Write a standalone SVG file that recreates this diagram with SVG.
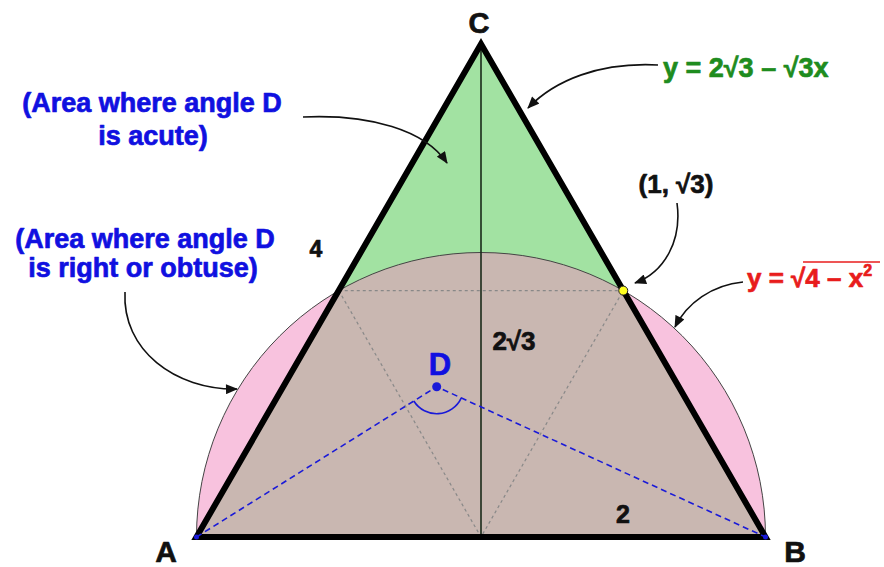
<svg xmlns="http://www.w3.org/2000/svg" width="884" height="567" viewBox="0 0 884 567">
<style>
text{font-family:"Liberation Sans",Arial,sans-serif;font-weight:bold;stroke-width:0.7;stroke-linejoin:round}
.blue{fill:#1010e0;stroke:#1010e0;font-size:27px;text-anchor:middle}
.lbl{fill:#111;stroke:#111;text-anchor:middle}
.dot{stroke:#888;stroke-width:1.2;stroke-dasharray:3 3;fill:none}
.bd{stroke:#1a1ad8;stroke-width:1.6;stroke-dasharray:6 4;fill:none}
.arr{stroke:#111;stroke-width:1.6;fill:none;marker-end:url(#ah)}
</style>
<defs>
<marker id="ah" viewBox="0 0 12 10" refX="11" refY="5" markerWidth="13" markerHeight="10" markerUnits="userSpaceOnUse" orient="auto">
<path d="M0,0 L12,5 L0,10 Z" fill="#111"/>
</marker>
</defs>
<rect width="884" height="567" fill="#fff"/>
<g id="regions">
<path id="pink" d="M196.5,537 A284.5,284.5 0 0 1 765.5,537 Z" fill="#f8c2de"/>
<path id="green" d="M196.5,537 L481,44 L765.5,537 Z" fill="#a2e2a2"/>
<path id="brown" d="M196.5,537 L338.75,290.6 A284.5,284.5 0 0 1 623.25,290.6 L765.5,537 Z" fill="#c9b7b1"/>
<path d="M196.5,537 A284.5,284.5 0 0 1 765.5,537" fill="none" stroke="#444" stroke-width="1"/>
</g>
<g id="construction">
<path class="dot" d="M338.75,290.6 L623.25,290.6 M338.75,290.6 L481,537 L623.25,290.6"/>
<line x1="481" y1="44" x2="481" y2="537" stroke="#1a2a1a" stroke-width="1.6"/>
</g>
<g id="triangle">
<path d="M196.5,537 L481,44 L765.5,537 Z" fill="none" stroke="#000" stroke-width="6" stroke-linejoin="miter"/>
</g>
<g id="pointD">
<path class="bd" d="M196.5,537 L436.7,386.7 L765.5,537"/>
<path d="M413.8,401 A27,27 0 0 0 461.3,397.9" fill="none" stroke="#1a1ad8" stroke-width="1.6"/>
<circle cx="436.7" cy="386.7" r="4.5" fill="#1a1ad8"/>
<circle cx="196.5" cy="537" r="2.5" fill="#1a1ad8"/>
<circle cx="765.5" cy="537" r="2.5" fill="#1a1ad8"/>
<text x="440" y="375" fill="#1010e0" stroke="#1010e0" font-size="31" text-anchor="middle">D</text>
</g>
<g id="point13">
<circle cx="623.25" cy="290.6" r="4.5" fill="#ffff20" stroke="#222" stroke-width="1"/>
</g>
<g id="labels">
<text class="lbl" x="479" y="33" font-size="29">C</text>
<text class="lbl" x="166" y="562" font-size="30">A</text>
<text class="lbl" x="795" y="562" font-size="30">B</text>
<text class="lbl" x="316" y="257" font-size="23">4</text>
<text class="lbl" x="514" y="350" font-size="26">2√3</text>
<text class="lbl" x="623" y="523" font-size="25">2</text>
<text class="lbl" x="676" y="193" font-size="26">(1, √3)</text>
<text x="663" y="77" font-size="27" fill="#1e8c1e" stroke="#1e8c1e">y = 2√3 – √3x</text>
<text x="747" y="287" font-size="26" fill="#e81c1c" stroke="#e81c1c">y = √4 – x<tspan font-size="16" dy="-11">2</tspan></text>
<line x1="803" y1="262" x2="880" y2="262" stroke="#e81c1c" stroke-width="1.6"/>
<text class="blue" x="152" y="112">(Area where angle D</text>
<text class="blue" x="153" y="145">is acute)</text>
<text class="blue" x="145" y="248">(Area where angle D</text>
<text class="blue" x="143" y="277">is right or obtuse)</text>
</g>
<g id="connectors">
<path class="arr" d="M303,117 C370,114 425,130 447,163"/>
<path class="arr" d="M125,292 C122,350 175,390 237,389"/>
<path class="arr" d="M658,65 C600,62 555,80 528,108"/>
<path class="arr" d="M677,203 C682,240 665,272 635,283"/>
<path class="arr" d="M743,282 C712,285 687,303 675,327"/>
</g>
</svg>
